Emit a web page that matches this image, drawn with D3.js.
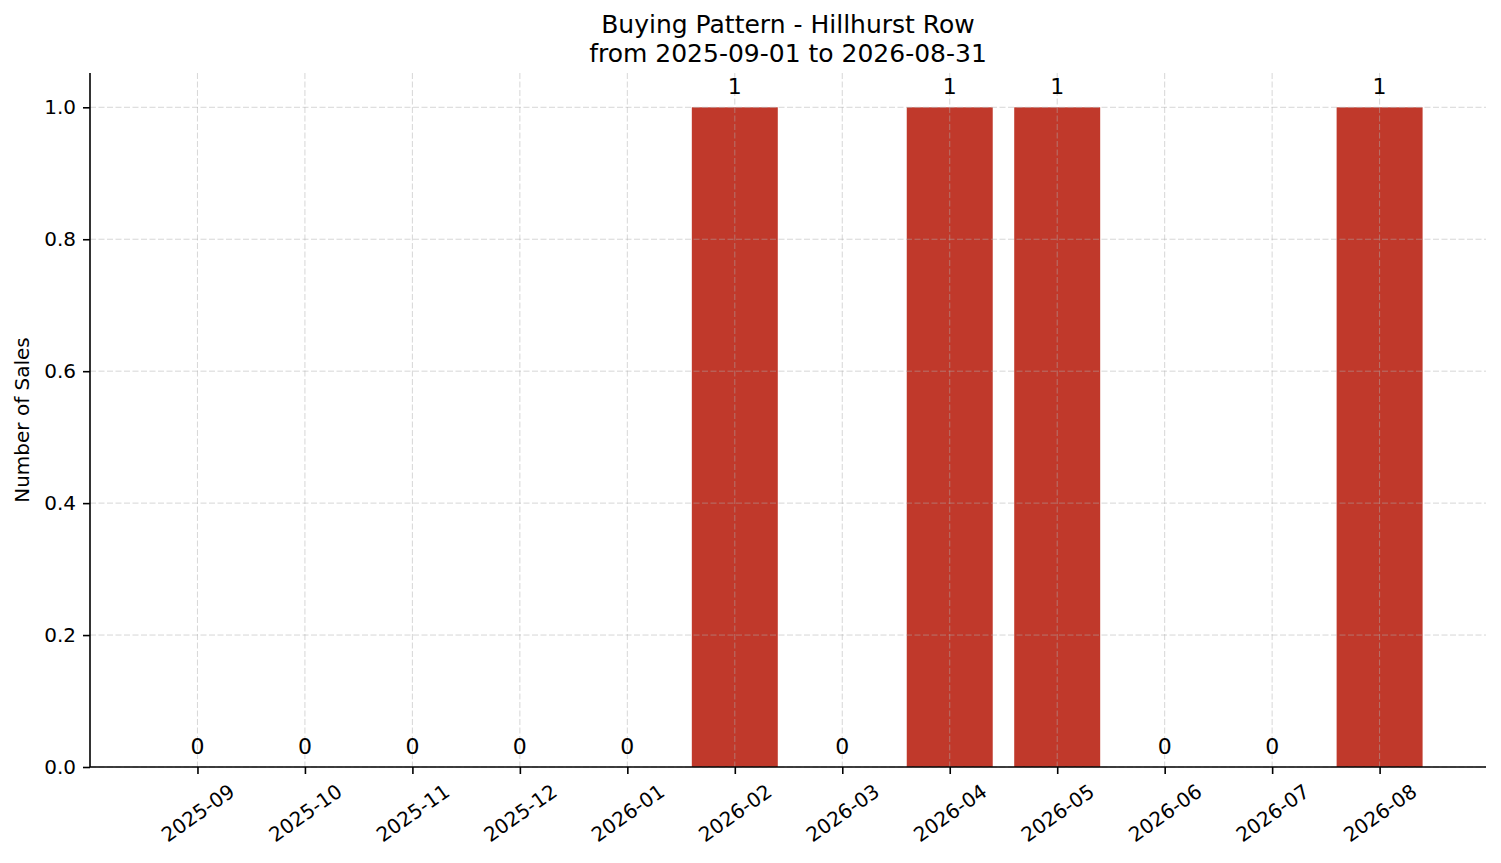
<!DOCTYPE html>
<html><head><meta charset="utf-8">
<script src="https://cdn.jsdelivr.net/npm/d3@7"></script>
<style>body{margin:0;background:#fff}svg{display:block}text{font-family:"DejaVu Sans",sans-serif}</style>
</head><body>
<svg id="c" width="1501" height="863"></svg>
<script>
const months = ["2025-09","2025-10","2025-11","2025-12","2026-01","2026-02","2026-03","2026-04","2026-05","2026-06","2026-07","2026-08"];
const sales = [0,0,0,0,0,1,0,1,1,0,0,1];
const yTicks = [0,0.2,0.4,0.6,0.8,1.0];
const titleLines = ["Buying Pattern - Hillhurst Row","from 2025-09-01 to 2026-08-31"];

const svg = d3.select("#c");
const L=90,R=1486,T=73,B=767;
const x = d3.scaleLinear().domain([-1.0,11.99]).range([L,R]);
const y = d3.scaleLinear().domain([0,1.052]).range([B,T]);
const bw = x(0.8)-x(0);

// bars
svg.selectAll("rect.bar").data(sales).join("rect")
 .attr("x",(d,i)=>x(i)-bw/2).attr("width",bw)
 .attr("y",d=>y(d)).attr("height",d=>B-y(d)).attr("fill","#c0392b");

// grid (drawn above bars, semi-transparent)
const g = svg.append("g").attr("stroke","#b0b0b0").attr("stroke-opacity",0.5)
 .attr("stroke-width",1).attr("stroke-dasharray","6,2.5");
g.selectAll("line.gy").data(yTicks).join("line")
 .attr("x1",L).attr("x2",R).attr("y1",d=>y(d)).attr("y2",d=>y(d));
g.selectAll("line.gx").data(months).join("line")
 .attr("x1",(d,i)=>x(i)).attr("x2",(d,i)=>x(i)).attr("y1",T).attr("y2",B);

// bar labels
svg.selectAll("text.bl").data(sales).join("text")
 .attr("x",(d,i)=>x(i)).attr("y",d=>y(d)-13.5)
 .attr("text-anchor","middle").attr("font-size",22).attr("fill","#000").text(d=>d);

// axes
const ya = svg.append("g").attr("transform",`translate(${L},0)`)
 .call(d3.axisLeft(y).tickValues(yTicks).tickFormat(d3.format(".1f")).tickSize(7).tickPadding(7));
ya.select(".domain").attr("d",`M0,${T}V${B}`).attr("stroke","#000").attr("stroke-width",1.6);
ya.selectAll("text").attr("font-size",20).attr("fill","#000").style("font-family","DejaVu Sans");
ya.selectAll(".tick line").attr("stroke","#000").attr("stroke-width",1.6);

const xa = svg.append("g").attr("transform",`translate(0,${B})`)
 .call(d3.axisBottom(x).tickValues(d3.range(months.length)).tickFormat(i=>months[i]).tickSize(7));
xa.select(".domain").attr("d",`M${L},0H${R}`).attr("stroke","#000").attr("stroke-width",1.6);
xa.selectAll(".tick line").attr("stroke","#000").attr("stroke-width",1.6);
xa.selectAll("text").attr("font-size",20).attr("fill","#000").style("font-family","DejaVu Sans")
 .attr("text-anchor","middle").attr("y",0).attr("dy","0.35em")
 .attr("transform","translate(0,46) rotate(-35)");

// y label
svg.append("text").attr("transform",`translate(29,${(T+B)/2}) rotate(-90)`)
 .attr("text-anchor","middle").attr("font-size",20).attr("fill","#000").text("Number of Sales");

// title
svg.append("g").selectAll("text").data(titleLines).join("text")
 .attr("x",(L+R)/2).attr("y",(d,i)=>33+i*29).attr("text-anchor","middle")
 .attr("font-size",25).attr("fill","#000").text(d=>d);
</script>
</body></html>
